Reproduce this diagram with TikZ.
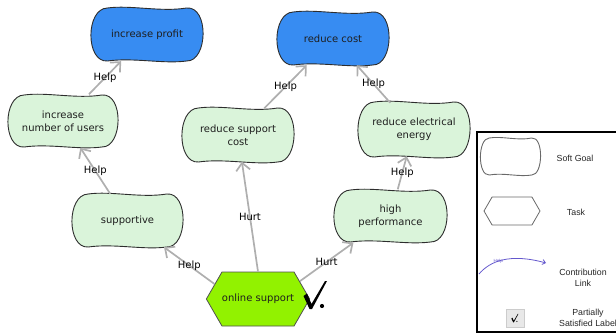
\documentclass[tikz,border=0pt]{standalone}
\usepackage{fontspec}
\setmainfont{DejaVu Sans}
\newfontfamily\legendfamily{Liberation Sans}
\usetikzlibrary{arrows.meta,shapes.symbols,backgrounds}

\definecolor{goalblue}{RGB}{55,140,242}
\definecolor{goalgreen}{RGB}{218,244,218}
\definecolor{tasklime}{RGB}{146,242,0}
\definecolor{goalline}{RGB}{45,45,45}
\definecolor{taskline}{RGB}{80,80,80}
\definecolor{arrowgray}{RGB}{175,175,175}
\definecolor{linkpurple}{RGB}{100,88,205}
\definecolor{nodetext}{RGB}{30,30,30}
\definecolor{legendgray}{RGB}{105,105,105}

\begin{document}
\begin{tikzpicture}[x=1pt,y=-1pt,
  goal/.style={rectangle, minimum width=110pt, minimum height=53pt, inner sep=0pt,
    align=center, font=\fontsize{10}{13}\selectfont, text=nodetext},
  taskbox/.style={signal, signal to=west and east, signal pointer angle=120,
    minimum width=103pt, minimum height=54pt, inner sep=0pt,
    fill=tasklime, draw=taskline, line width=0.8pt,
    font=\fontsize{10}{13}\selectfont, text=nodetext},
  contrib/.style={draw=arrowgray, line width=1.7pt,
    -{Straight Barb[length=7.5pt,width=14pt]}},
  lbl/.style={font=\fontsize{10}{12}\selectfont, text=black, inner sep=0pt},
  legendtext/.style={font=\legendfamily\fontsize{8.8}{11}\selectfont,
    align=center, text=black!85},
  pics/softgoal/.style n args={4}{code={
    \filldraw[draw=#2, line width=0.9pt, fill=#1, xscale=#3, yscale=#4]
      (-0.72,-1) .. controls (-0.3,-1.12) and (0.25,-0.84) .. (0.72,-1)
      .. controls (1.13,-1.08) and (1.11,1.02) .. (0.72,1)
      .. controls (0.3,1.12) and (-0.25,0.86) .. (-0.72,1)
      .. controls (-1.12,1.06) and (-1.12,-0.98) .. (-0.72,-1) -- cycle;
  }},
  pics/checkmark/.style={code={
    \fill (-7.5,-13) -- (-4,-15.5) -- (0.5,-5) -- (14,-28) -- (16,-28)
      -- (1,0) -- (-1.5,0) -- cycle;
    \fill (11,-3) circle[radius=2.1pt];
  }}
]
\path[use as bounding box, clip] (0,0) rectangle (616,334);

% soft goals
\node[goal] (profit) at (147,34.5) {increase profit};
\node[goal] (rcost)  at (333,38.5) {reduce cost};
\node[goal] (users)  at (63,121)   {increase\\number of users};
\node[goal] (rsc)    at (238,135)  {reduce support\\cost};
\node[goal] (ree)    at (414,129.5){reduce electrical\\energy};
\node[goal] (sup)    at (127.5,220.5) {supportive};
\node[goal] (hp)     at (390.5,216) {high\\performance};

% task
\node[taskbox] (os) at (258,299) {online support};
\pic at (311,309) {checkmark};

% soft goal outlines behind the texts
\begin{scope}[on background layer]
  \pic at (profit.center) {softgoal={goalblue}{goalline}{55}{26.5}};
  \pic at (rcost.center)  {softgoal={goalblue}{goalline}{55}{26.5}};
  \pic at (users.center)  {softgoal={goalgreen}{goalline}{54}{26}};
  \pic at (rsc.center)    {softgoal={goalgreen}{goalline}{55}{27}};
  \pic at (ree.center)    {softgoal={goalgreen}{goalline}{55}{27.5}};
  \pic at (sup.center)    {softgoal={goalgreen}{goalline}{54.5}{26.5}};
  \pic at (hp.center)     {softgoal={goalgreen}{goalline}{55.5}{26}};
\end{scope}

% contribution links
\draw[contrib] (users) -- node[lbl]{Help} (profit);
\draw[contrib] (rsc)   -- node[lbl]{Help} (rcost);
\draw[contrib] (ree)   -- node[lbl]{Help} (rcost);
\draw[contrib] (sup)   -- node[lbl]{Help} (users);
\draw[contrib] (hp)    -- node[lbl]{Help} (ree);
\draw[contrib] (os.161)   -- node[lbl]{Help} (sup);
\draw[contrib] (os.north) -- node[lbl]{Hurt} (rsc);
\draw[contrib] (os.23)    -- node[lbl]{Hurt} (hp);

% legend
\draw[line width=1.6pt] (477,132) rectangle (640,332);
\pic at (510.5,156.5) {softgoal={none}{legendgray}{29.5}{18.5}};
\node[legendtext] (lgsoft) at (575,158) {Soft Goal};
\node[signal, signal to=west and east, signal pointer angle=120,
  minimum width=56pt, minimum height=28pt, draw=legendgray, line width=0.8pt]
  (lgtask) at (512,211) {};
\node[legendtext] (lgtasktext) at (576,212) {Task};
\coordinate (lkA) at (479,274);
\coordinate (lkB) at (546,263);
\draw[draw=linkpurple, line width=0.8pt, -{Straight Barb[length=3pt,width=5pt]}]
  (lkA) .. controls (490,261) and (510,253) .. (lkB)
  node[pos=0.42, font=\legendfamily\fontsize{4.5}{5}\selectfont, text=linkpurple, inner sep=0pt] {Help};
\node[legendtext] (lglink) at (583,277.5) {Contribution\\Link};
\node[draw=black!20, fill=black!9, minimum size=18pt, inner sep=0pt] (lgcheck) at (515,318) {};
\pic[scale=0.3] at (513.6,322.3) {checkmark};
\node[legendtext] (lgpart) at (588,318) {Partially\\Satisfied Label};
\end{tikzpicture}
\end{document}
